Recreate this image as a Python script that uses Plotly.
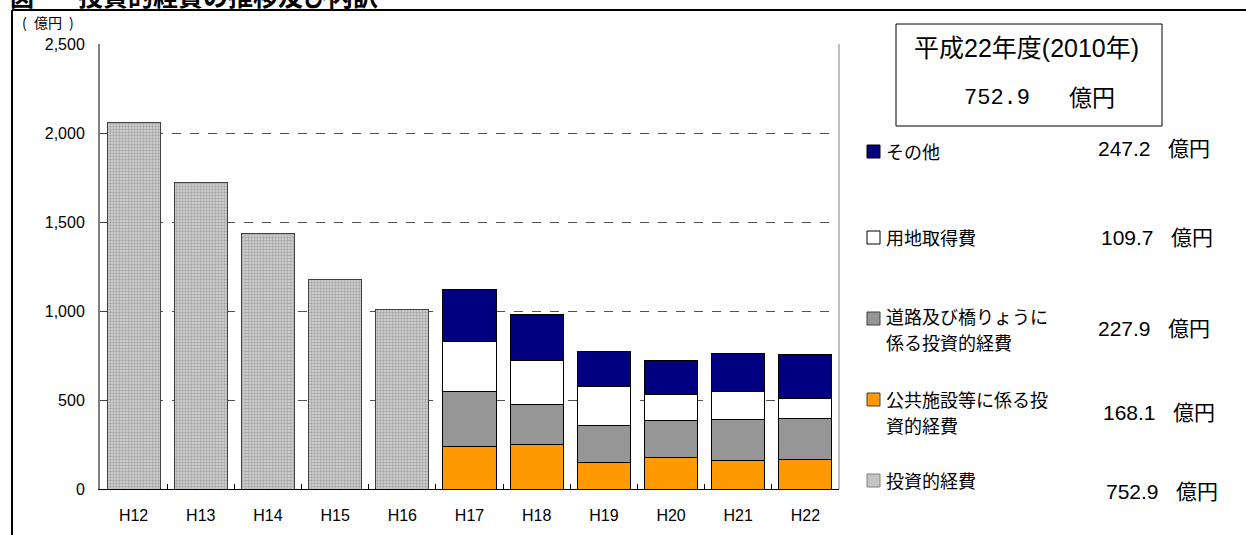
import plotly.graph_objects as go

# ---- data ----
years = ["H12", "H13", "H14", "H15", "H16", "H17", "H18", "H19", "H20", "H21", "H22"]
total_hatched = [2060, 1722, 1438, 1177, 1006, None, None, None, None, None, None]
public_facilities = [None, None, None, None, None, 240, 248, 147, 175, 162, 168.1]
roads_bridges = [None, None, None, None, None, 308, 227, 207, 209, 229, 227.9]
land = [None, None, None, None, None, 278, 249, 222, 149, 157, 109.7]
other = [None, None, None, None, None, 293, 254, 198, 189, 211, 247.2]
y_ticks = [0, 500, 1000, 1500, 2000, 2500]
y_tick_labels = ["0", "500", "1,000", "1,500", "2,000", "2,500"]

legend_labels = [
    ["その他"],
    ["用地取得費"],
    ["道路及び橋りょうに", "係る投資的経費"],
    ["公共施設等に係る投", "資的経費"],
    ["投資的経費"],
]
legend_values = ["247.2", "109.7", "227.9", "168.1", "752.9"]
box_title = "平成22年度(2010年)"
box_value = "752.9"
unit = "億円"
title_mark = "図"
title_text = "投資的経費の推移及び内訳"

# ---- layout geometry (pixels) ----
W, H = 1246, 535
L, R, T, B = 100, 839, 44, 489
def px(x):
    return (x - L) / (R - L)
def py(y):
    return (B - y) / (B - T)

JP = "Noto Sans CJK JP"
AR = "Liberation Sans, Arial"

fig = go.Figure()
fig.add_bar(x=years, y=total_hatched, name="投資的経費",
            marker=dict(color="#c4c4c4", line=dict(color="#404040", width=1),
                        pattern=dict(shape=".", size=3, solidity=0.5,
                                     fgcolor="#767676", bgcolor="#d6d6d6")))
fig.add_bar(x=years, y=public_facilities, name="公共施設等に係る投資的経費",
            marker=dict(color="#FF9900", line=dict(color="#000000", width=1)))
fig.add_bar(x=years, y=roads_bridges, name="道路及び橋りょうに係る投資的経費",
            marker=dict(color="#969696", line=dict(color="#000000", width=1)))
fig.add_bar(x=years, y=land, name="用地取得費",
            marker=dict(color="#FFFFFF", line=dict(color="#000000", width=1)))
fig.add_bar(x=years, y=other, name="その他",
            marker=dict(color="#000080", line=dict(color="#000000", width=1)))

fig.update_layout(
    width=W, height=H,
    margin=dict(l=L, r=W - R, t=T, b=H - B, pad=0),
    barmode="stack", bargap=0.21,
    showlegend=False,
    plot_bgcolor="white", paper_bgcolor="white",
    font=dict(family=AR, color="black", size=16),
)
fig.update_xaxes(
    type="category", showgrid=False, showline=True, linecolor="black", linewidth=1,
    ticks="inside", tickson="boundaries", ticklen=5, tickcolor="black",
    tickfont=dict(family=AR, size=16), ticklabelstandoff=12,
)
fig.update_yaxes(
    range=[0, 2500], tickvals=y_ticks, ticktext=y_tick_labels,
    showgrid=True, gridcolor="#505050", griddash="dash", gridwidth=1,
    showline=True, linecolor="#808080", linewidth=2,
    ticks="inside", ticklen=8, tickcolor="#404040",
    tickfont=dict(family=AR, size=16), ticklabelstandoff=10, zeroline=False,
)

shapes = []
annotations = []

def ann(text, x, y, size, family=JP, xanchor="left", color="black"):
    annotations.append(dict(text=text, xref="paper", yref="paper", x=px(x), y=py(y),
                            xanchor=xanchor, yanchor="middle", showarrow=False, align="left",
                            font=dict(family=family, size=size, color=color)))

# right border of plot area
shapes.append(dict(type="line", xref="paper", yref="paper", x0=1, x1=1, y0=0, y1=1,
                   line=dict(color="#c0c0c0", width=2)))
# outer frame
shapes.append(dict(type="line", xref="paper", yref="paper", x0=px(12), x1=px(1250),
                   y0=py(10), y1=py(10), line=dict(color="black", width=2)))
shapes.append(dict(type="line", xref="paper", yref="paper", x0=px(12), x1=px(12),
                   y0=py(10), y1=py(540), line=dict(color="black", width=2)))

# title (cut off at top in the reference)
ann("<b>" + title_mark + "</b>", 8, -5, 24)
ann("<b>" + title_text + "</b>", 76, -5, 25)

# unit label
ann("(", 20, 22, 14)
ann("億円", 32, 22, 14)
ann(")", 67, 22, 14)

# summary box
shapes.append(dict(type="rect", xref="paper", yref="paper", x0=px(896), x1=px(1162),
                   y0=py(24), y1=py(126), line=dict(color="black", width=1), fillcolor="white"))
ann(box_title, 1026, 48, 25, family="Liberation Sans, Noto Sans CJK JP", xanchor="center")
ann(box_value, 1032, 98, 22, family="Liberation Mono, DejaVu Sans Mono", xanchor="right")
ann(unit, 1067, 96, 23)

# legend
sq_colors = ["#000080", "#FFFFFF", "#969696", "#FF9900", "#c4c4c4"]
sq_lines = ["#000000", "#000000", "#404040", "#404040", "#808080"]
sq_tops = [145, 231, 312, 393, 474]
label_ys = [[151], [237], [316, 342], [399, 425], [480]]
value_ys = [148, 237, 328, 412, 491]
value_x = [1096, 1099, 1096, 1101, 1104]
for i in range(5):
    shapes.append(dict(type="rect", xref="paper", yref="paper", x0=px(867), x1=px(880),
                       y0=py(sq_tops[i]), y1=py(sq_tops[i] + 13),
                       line=dict(color=sq_lines[i], width=1), fillcolor=sq_colors[i]))
    for line_text, ly in zip(legend_labels[i], label_ys[i]):
        ann(line_text, 884, ly, 18)
    ann(legend_values[i], value_x[i], value_ys[i], 21, family=AR)
    ann(unit, value_x[i] + 70, value_ys[i] - 1, 21)

fig.update_layout(shapes=shapes, annotations=annotations)
fig.write_html("out.html", config={"displayModeBar": False},
               post_script="document.body.style.margin='0px';")
